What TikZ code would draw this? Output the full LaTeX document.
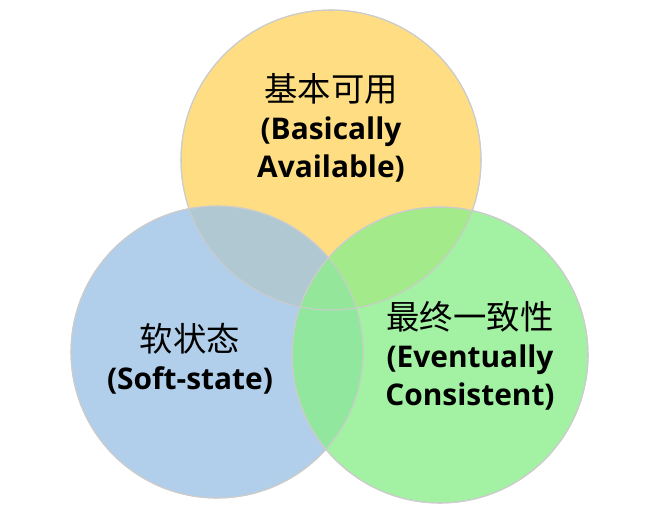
\documentclass[tikz,border=0pt]{standalone}
\usepackage{fontspec}
\setmainfont{Open Sans}
\newfontfamily\cjk{Noto Sans CJK SC}
\definecolor{availfill}{RGB}{255,214,100}
\definecolor{softfill}{RGB}{157,195,230}
\definecolor{consfill}{RGB}{140,238,140}
\tikzstyle{every node}=[font=\bfseries\fontsize{17}{21.5}\selectfont,align=center]
\tikzstyle{setcircle}=[draw=white!80!black,line width=0.6pt,fill opacity=0.8]
\newcommand{\cjktext}[1]{{\cjk\mdseries\fontsize{19}{21.5}\selectfont #1}}

\begin{document}
\begin{tikzpicture}[x=0.02cm,y=-0.02cm]
    \useasboundingbox (0,0) rectangle (646,514);
    % Circles
    \fill[availfill,setcircle] (331,160) circle (150);
    \fill[softfill,setcircle] (217,352) circle (146);
    \fill[consfill,setcircle] (440,355) circle (148);
    \draw[setcircle] (331,160) circle (150) (217,352) circle (146) (440,355) circle (148);

    % Labels
    \node (avail) at (331,128) {\cjktext{基本可用}\\(Basically\\Available)};
    \node (soft) at (190,359) {\cjktext{软状态}\\(Soft-state)};
    \node (cons) at (470,356) {\cjktext{最终一致性}\\(Eventually\\Consistent)};
\end{tikzpicture}
\end{document}
